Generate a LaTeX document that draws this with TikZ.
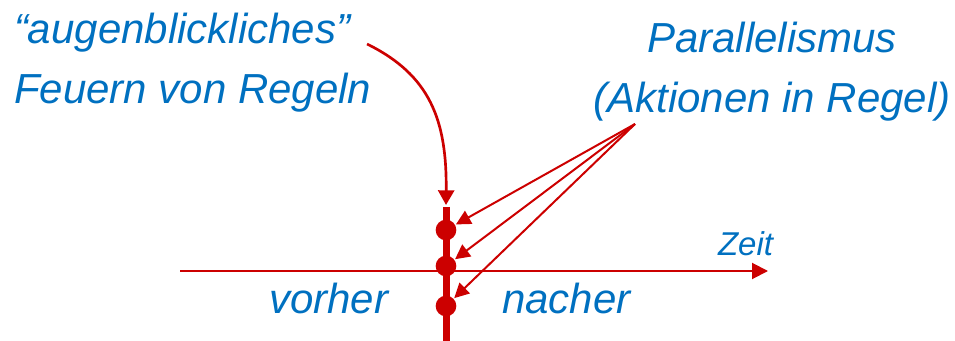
\documentclass[tikz,border=0pt]{standalone}
\usepackage{fontspec}
\setmainfont{Liberation Sans}
\usetikzlibrary{arrows.meta}
\definecolor{cred}{HTML}{CC0000}
\definecolor{cblue}{HTML}{0070C0}
\tikzset{
  every picture/.style={line width=1.5pt},
  txt/.style={text=cblue, font=\fontsize{31.5}{45}\selectfont\itshape, inner sep=0pt, align=left},
  dot/.style={circle, fill=cred, minimum size=15.5pt, inner sep=0pt},
  arrow/.style={-{Triangle[length=11pt, width=11pt]}, draw=cred, line width=1.5pt},
}

\begin{document}
\begin{tikzpicture}[x=0.75pt, y=-0.75pt]
  \useasboundingbox (0,0) rectangle (955,341);
  % time axis
  \coordinate (tstart) at (180,271);
  \coordinate (tend) at (768,271);
  \draw[arrow, -{Triangle[length=12pt, width=12pt]}] (tstart) -- (tend);
  \node[txt, font=\fontsize{24.75}{30}\selectfont\itshape, anchor=base west] (zeit) at (717,256) {Zeit};
  % firing moment with three actions
  \coordinate (bartop) at (446,207);
  \coordinate (barbot) at (446,341);
  \draw[draw=cred, line width=5.25pt] (bartop) -- (barbot);
  \node[dot] (d1) at (446,230) {};
  \node[dot] (d2) at (446,266) {};
  \node[dot] (d3) at (446,306) {};
  % texts (base anchor = last line)
  \node[txt, anchor=base west] (feuern) at (13,104) {“augenblickliches”\\Feuern von Regeln};
  \node[txt, align=center, anchor=base] (para) at (772,113) {Parallelismus\\(Aktionen in Regel)};
  \node[txt, anchor=base west] (vorher) at (268,314) {vorher};
  \node[txt, anchor=base west] (nacher) at (501,314) {nacher};
  % arrows
  \coordinate (fstart) at (367,44);
  \draw[arrow, -{Triangle[length=11pt, width=12pt]}, line width=2pt] (fstart) .. controls (430,75) and (447,120) .. ([yshift=1.5pt]bartop);
  \coordinate (pstart) at (635,124);
  \foreach \d in {d1,d2,d3}
    \draw[arrow] (pstart) -- (\d);
\end{tikzpicture}
\end{document}
